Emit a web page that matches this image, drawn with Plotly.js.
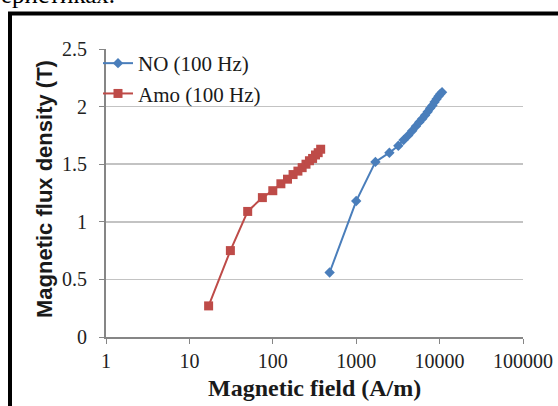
<!DOCTYPE html>
<html>
<head>
<meta charset="utf-8">
<script src="https://cdn.plot.ly/plotly-3.0.1.min.js"></script>
<style>
  html, body { margin: 0; padding: 0; background: #ffffff; }
  #chart { width: 558px; height: 406px; }
</style>
</head>
<body>
<div id="chart"></div>
<script>
// Data
const noField = [480, 1000, 1700, 2500, 3200, 3700, 4200, 4700, 5200, 5700, 6200, 6700, 7200, 7700, 8200, 8700, 9200, 9700, 10200, 10700];
const noFlux  = [0.56, 1.18, 1.52, 1.60, 1.66, 1.71, 1.75, 1.79, 1.83, 1.865, 1.895, 1.925, 1.955, 1.985, 2.01, 2.04, 2.065, 2.09, 2.11, 2.125];

const amoField = [17, 31, 50, 75, 100, 125, 150, 175, 200, 225, 250, 275, 300, 325, 350, 375];
const amoFlux  = [0.27, 0.75, 1.09, 1.21, 1.27, 1.33, 1.37, 1.41, 1.44, 1.47, 1.50, 1.53, 1.55, 1.58, 1.60, 1.63];

const seriesNames = ["NO (100 Hz)", "Amo (100 Hz)"];
const xTickVals = [1, 10, 100, 1000, 10000, 100000];
const xTickText = ["1", "10", "100", "1000", "10000", "100000"];
const yTickVals = [0, 0.5, 1, 1.5, 2, 2.5];
const yTickText = ["0", "0.5", "1", "1.5", "2", "2.5"];
const xTitle = "Magnetic field (A/m)";
const yTitle = "Magnetic flux density (T)";
const topText = "еристиках.";

const blue = "#4a7ebb";
const red = "#be4b48";
const serif = "'Liberation Serif', 'Times New Roman', serif";

const traces = [
  {
    x: noField, y: noFlux, name: seriesNames[0], type: "scatter", mode: "lines+markers",
    line: { color: blue, width: 2 },
    marker: { symbol: "diamond", size: 8, color: blue },
    legendgroup: "a"
  },
  {
    x: amoField, y: amoFlux, name: seriesNames[1], type: "scatter", mode: "lines+markers",
    line: { color: red, width: 2 },
    marker: { symbol: "square", size: 9, color: red },
    legendgroup: "b"
  }
];

// plot area: x 106..523 px, y 49..337 px
const L = 106, T = 49, W = 417, H = 288;
const px = v => (v - L) / W;
const py = v => 1 - (v - T) / H;

const layout = {
  width: 558, height: 406,
  margin: { l: L, r: 558 - L - W, t: T, b: 406 - T - H },
  paper_bgcolor: "#ffffff", plot_bgcolor: "#ffffff",
  showlegend: true,
  legend: {
    x: px(98), y: py(43), xanchor: "left", yanchor: "top",
    bgcolor: "rgba(0,0,0,0)", borderwidth: 0,
    font: { family: serif, size: 21, color: "#1a1a1a" },
    tracegroupgap: 0, itemwidth: 30, traceorder: "grouped"
  },
  xaxis: {
    type: "log", range: [0, 5],
    tickvals: xTickVals, ticktext: xTickText,
    ticks: "outside", ticklen: 5, tickcolor: "#868686", tickwidth: 1,
    showline: true, linecolor: "#868686", linewidth: 2,
    showgrid: false, zeroline: false,
    tickfont: { family: serif, size: 20, color: "#222" },
    automargin: false, fixedrange: true
  },
  yaxis: {
    range: [0, 2.5],
    tickvals: yTickVals, ticktext: yTickText,
    ticks: "outside", ticklen: 5, tickcolor: "#868686", tickwidth: 1,
    showline: true, linecolor: "#868686", linewidth: 2,
    showgrid: true, gridcolor: "#c3c3c3", gridwidth: 1.5,
    zeroline: false,
    tickfont: { family: serif, size: 20, color: "#222" },
    ticklabelstandoff: 8,
    automargin: false, fixedrange: true
  },
  shapes: [
    { type: "line", xref: "paper", yref: "paper", x0: px(10), x1: px(10), y0: py(12), y1: py(420), line: { color: "#000", width: 4 } },
    { type: "line", xref: "paper", yref: "paper", x0: px(8), x1: px(570), y0: py(13.5), y1: py(13.5), line: { color: "#000", width: 4 } }
  ],
  annotations: [
    { text: topText, xref: "paper", yref: "paper", x: px(-1), y: py(10), xanchor: "left", yanchor: "bottom",
      showarrow: false, font: { family: serif, size: 25, color: "#000" } },
    { text: xTitle, xref: "paper", yref: "paper", x: px(314), y: py(388), xanchor: "center", yanchor: "middle",
      showarrow: false, font: { family: serif, size: 24, color: "#1a1a1a", weight: "bold" } },
    { text: yTitle, xref: "paper", yref: "paper", x: px(44), y: py(189), xanchor: "center", yanchor: "middle",
      textangle: -90, showarrow: false,
      font: { family: "'Liberation Sans', Arial, sans-serif", size: 22, color: "#1a1a1a", weight: "bold" } }
  ]
};

Plotly.newPlot("chart", traces, layout, { displayModeBar: false, staticPlot: true });
</script>
</body>
</html>
